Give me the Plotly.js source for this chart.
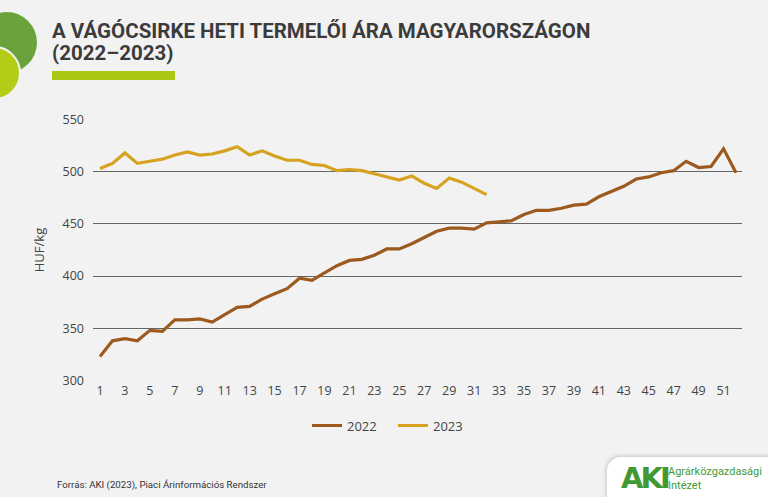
<!DOCTYPE html>
<html>
<head>
<meta charset="utf-8">
<script src="https://cdn.plot.ly/plotly-3.0.1.min.js"></script>
<style>
  html, body { margin: 0; padding: 0; background: #f2f2f2; }
  #wrap { position: relative; width: 768px; height: 497px; overflow: hidden; background: #f2f2f2; }
  #chart { position: absolute; left: 0; top: 0; width: 768px; height: 497px; }
  .circ { position: absolute; border-radius: 50%; }
  #bar { position: absolute; left: 52px; top: 71px; width: 123px; height: 9px; background: #a9c714; }
  #logo { position: absolute; left: 607px; top: 457px; width: 175px; height: 50px; background: #fff;
          border-radius: 14px 0 0 0; box-shadow: -1px -1px 4px rgba(0,0,0,0.18); }
  #logo .aki { position: absolute; left: 14px; top: 4px; font: 900 29px "DejaVu Sans", sans-serif; color: #3f9a35; letter-spacing: -3px; }
  #logo .txt { position: absolute; left: 61px; top: 8px; font: 11px "Liberation Sans Narrow", "Roboto", sans-serif; color: #3f9a35; line-height: 14px; }
</style>
</head>
<body>
<div id="wrap">
  <div id="chart"></div>
  <div class="circ" style="left:-24px; top:12px; width:61px; height:61px; background:#6aa33c;"></div>
  <div class="circ" style="left:-33px; top:46px; width:50px; height:50px; background:#b3cc16; border:2px solid #f2f2f2;"></div>
  <div id="bar"></div>
  <div id="logo"><div class="aki">AKI</div><div class="txt">Agrárközgazdasági<br>Intézet</div></div>
</div>
<script>
const weeks2022 = Array.from({length: 52}, (_, i) => i + 1);
const weeks2023 = Array.from({length: 32}, (_, i) => i + 1);
const price2022 = [323, 338, 340, 338, 348, 347, 358, 358, 359, 356,
                   363, 370, 371, 378, 383, 388, 398, 396, 403, 410,
                   415, 416, 420, 426, 426, 431, 437, 443, 446, 446,
                   445, 451, 452, 453, 459, 463, 463, 465, 468, 469,
                   476, 481, 486, 493, 495, 499, 501, 510, 504, 505,
                   522, 499];
const price2023 = [503, 508, 518, 508, 510, 512, 516, 519, 516, 517,
                   520, 524, 516, 520, 515, 511, 511, 507, 506, 501,
                   502, 501, 498, 495, 492, 496, 489, 484, 494, 490,
                   484, 478];
const seriesNames = ['2022', '2023'];
const tickVals = Array.from({length: 26}, (_, i) => 2 * i + 1);

const traces = [
  {x: weeks2022, y: price2022, name: seriesNames[0], type: 'scatter', mode: 'lines',
   line: {color: '#9d5a1f', width: 3.2}},
  {x: weeks2023, y: price2023, name: seriesNames[1], type: 'scatter', mode: 'lines',
   line: {color: '#d6a21f', width: 3.2}}
];

const plotH = 262, plotW = 649;
const titleFont = {family: 'Roboto, sans-serif', size: 20.5, color: '#3b3b3b'};
const layout = {
  width: 768, height: 497,
  paper_bgcolor: 'rgba(0,0,0,0)', plot_bgcolor: 'rgba(0,0,0,0)',
  margin: {l: 93, r: 26, t: 119, b: 116},
  font: {family: 'Open Sans, sans-serif', color: '#444', size: 12},
  xaxis: {
    range: [0.44, 52.48], tickvals: tickVals, showgrid: false, zeroline: false,
    showline: false, ticks: '', tickfont: {size: 12.5, color: '#444'}, fixedrange: true
  },
  yaxis: {
    range: [299.5, 550.5], dtick: 50, tick0: 300, showgrid: true, gridcolor: '#666', gridwidth: 1,
    zeroline: false, showline: false, ticks: '', ticklabelstandoff: 8,
    tickfont: {size: 12.5, color: '#444'},
    title: {text: 'HUF/kg', font: {size: 13, color: '#444'}, standoff: 14}
  },
  showlegend: true,
  legend: {orientation: 'h', x: 0.5 - 24.5 / plotW, xanchor: 'center', y: -0.17, yanchor: 'middle',
           entrywidth: 41, font: {size: 13, color: '#444'}, bgcolor: 'rgba(0,0,0,0)'},
  annotations: [
    {
      text: '<b>A VÁGÓCSIRKE HETI TERMELŐI ÁRA MAGYARORSZÁGON</b>',
      xref: 'paper', yref: 'paper', x: (50 - 93) / plotW, y: (381 - 31) / plotH,
      xanchor: 'left', yanchor: 'middle', align: 'left', showarrow: false, font: titleFont
    },
    {
      text: '<b>(2022–2023)</b>',
      xref: 'paper', yref: 'paper', x: (50 - 93) / plotW, y: (381 - 53) / plotH,
      xanchor: 'left', yanchor: 'middle', align: 'left', showarrow: false, font: titleFont
    },
    {
      text: 'Forrás: AKI (2023), Piaci Árinformációs Rendszer',
      xref: 'paper', yref: 'paper', x: (55 - 93) / plotW, y: -(485 - 381) / plotH,
      xanchor: 'left', yanchor: 'middle', showarrow: false,
      font: {family: 'Liberation Sans Narrow, Roboto, sans-serif', size: 9.7, color: '#333'}
    }
  ]
};

Plotly.newPlot('chart', traces, layout, {displayModeBar: false, staticPlot: true});
</script>
</body>
</html>
